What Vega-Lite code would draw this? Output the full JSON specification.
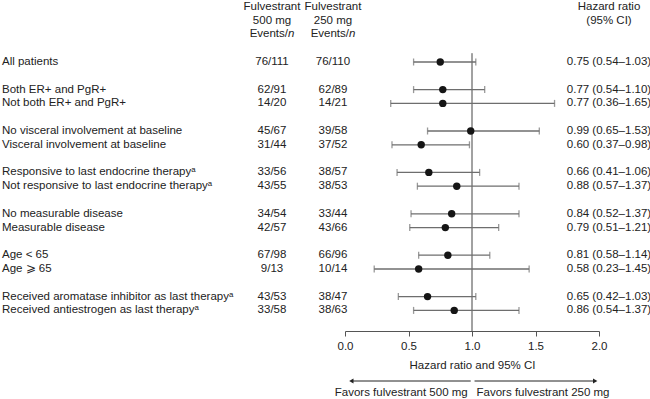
{
  "$schema": "https://vega.github.io/schema/vega-lite/v6.json",
  "background": "white",
  "padding": {"left": 2, "top": 0, "right": 0, "bottom": 0},
  "columns": 4,
  "spacing": {"row": 44, "column": 0},
  "bounds": "flush",
  "config": {
    "view": {"stroke": null},
    "text": {"font": "Liberation Sans", "fontSize": 11.5, "color": "#222"},
    "axis": {"labelFont": "Liberation Sans", "titleFont": "Liberation Sans"}
  },
  "datasets": {
    "rows": [
      {"subgroup": "All patients", "e500": "76/111", "e250": "76/110", "hr": 0.75, "lo": 0.54, "hi": 1.03, "ci": "0.75 (0.54–1.03)"},
      {"subgroup": "Both ER+ and PgR+", "e500": "62/91", "e250": "62/89", "hr": 0.77, "lo": 0.54, "hi": 1.10, "ci": "0.77 (0.54–1.10)"},
      {"subgroup": "Not both ER+ and PgR+", "e500": "14/20", "e250": "14/21", "hr": 0.77, "lo": 0.36, "hi": 1.65, "ci": "0.77 (0.36–1.65)"},
      {"subgroup": "No visceral involvement at baseline", "e500": "45/67", "e250": "39/58", "hr": 0.99, "lo": 0.65, "hi": 1.53, "ci": "0.99 (0.65–1.53)"},
      {"subgroup": "Visceral involvement at baseline", "e500": "31/44", "e250": "37/52", "hr": 0.60, "lo": 0.37, "hi": 0.98, "ci": "0.60 (0.37–0.98)"},
      {"subgroup": "Responsive to last endocrine therapyᵃ", "e500": "33/56", "e250": "38/57", "hr": 0.66, "lo": 0.41, "hi": 1.06, "ci": "0.66 (0.41–1.06)"},
      {"subgroup": "Not responsive to last endocrine therapyᵃ", "e500": "43/55", "e250": "38/53", "hr": 0.88, "lo": 0.57, "hi": 1.37, "ci": "0.88 (0.57–1.37)"},
      {"subgroup": "No measurable disease", "e500": "34/54", "e250": "33/44", "hr": 0.84, "lo": 0.52, "hi": 1.37, "ci": "0.84 (0.52–1.37)"},
      {"subgroup": "Measurable disease", "e500": "42/57", "e250": "43/66", "hr": 0.79, "lo": 0.51, "hi": 1.21, "ci": "0.79 (0.51–1.21)"},
      {"subgroup": "Age < 65", "e500": "67/98", "e250": "66/96", "hr": 0.81, "lo": 0.58, "hi": 1.14, "ci": "0.81 (0.58–1.14)"},
      {"subgroup": "Age ⩾ 65", "e500": "9/13", "e250": "10/14", "hr": 0.58, "lo": 0.23, "hi": 1.45, "ci": "0.58 (0.23–1.45)"},
      {"subgroup": "Received aromatase inhibitor as last therapyᵃ", "e500": "43/53", "e250": "38/47", "hr": 0.65, "lo": 0.42, "hi": 1.03, "ci": "0.65 (0.42–1.03)"},
      {"subgroup": "Received antiestrogen as last therapyᵃ", "e500": "33/58", "e250": "38/63", "hr": 0.86, "lo": 0.54, "hi": 1.37, "ci": "0.86 (0.54–1.37)"}
    ],
    "heads": [
      {"arm": "e500", "dose": "500 mg"},
      {"arm": "e250", "dose": "250 mg"}
    ],
    "favors": [
      {"side": "500", "from": 0.99, "to": 0.05, "label": "Favors fulvestrant 500 mg"},
      {"side": "250", "from": 1.02, "to": 1.97, "label": "Favors fulvestrant 250 mg"}
    ]
  },
  "concat": [
    {
      "width": 258,
      "height": 330,
      "data": {"name": "rows"},
      "mark": {"type": "text", "align": "left", "baseline": "middle"},
      "encoding": {
        "x": {"datum": 0, "type": "quantitative", "scale": {"domain": [0, 1]}, "axis": null},
        "y": {"field": "subgroup", "type": "nominal", "axis": null,
              "scale": {"type": "point", "padding": 0.9565, "align": 0.2197,
                        "domain": ["hdr1","hdr2","hdr3","gap0","All patients","gap1","Both ER+ and PgR+","Not both ER+ and PgR+","gap2","No visceral involvement at baseline","Visceral involvement at baseline","gap3","Responsive to last endocrine therapyᵃ","Not responsive to last endocrine therapyᵃ","gap4","No measurable disease","Measurable disease","gap5","Age < 65","Age ⩾ 65","gap6","Received aromatase inhibitor as last therapyᵃ","Received antiestrogen as last therapyᵃ"]}},
        "text": {"field": "subgroup"}
      }
    },
    {
      "width": 85,
      "height": 330,
      "encoding": {
        "x": {"field": "arm", "type": "nominal", "axis": null,
              "scale": {"type": "point", "domain": ["e500", "e250"], "padding": 0.197}},
        "y": {"field": "subgroup", "type": "nominal", "axis": null,
              "scale": {"type": "point", "padding": 0.9565, "align": 0.2197,
                        "domain": ["hdr1","hdr2","hdr3","gap0","All patients","gap1","Both ER+ and PgR+","Not both ER+ and PgR+","gap2","No visceral involvement at baseline","Visceral involvement at baseline","gap3","Responsive to last endocrine therapyᵃ","Not responsive to last endocrine therapyᵃ","gap4","No measurable disease","Measurable disease","gap5","Age < 65","Age ⩾ 65","gap6","Received aromatase inhibitor as last therapyᵃ","Received antiestrogen as last therapyᵃ"]}}
      },
      "layer": [
        {
          "data": {"name": "rows"},
          "transform": [{"fold": ["e500", "e250"], "as": ["arm", "events"]}],
          "mark": {"type": "text", "align": "center", "baseline": "middle"},
          "encoding": {"text": {"field": "events"}}
        },
        {
          "data": {"name": "heads"},
          "mark": {"type": "text", "align": "center", "baseline": "middle"},
          "encoding": {"y": {"datum": "hdr1", "type": "nominal"}, "text": {"value": "Fulvestrant"}}
        },
        {
          "data": {"name": "heads"},
          "mark": {"type": "text", "align": "center", "baseline": "middle"},
          "encoding": {"y": {"datum": "hdr2", "type": "nominal"}, "text": {"field": "dose"}}
        },
        {
          "data": {"name": "heads"},
          "mark": {"type": "text", "align": "right", "baseline": "middle", "dx": 16},
          "encoding": {"y": {"datum": "hdr3", "type": "nominal"}, "text": {"value": "Events/"}}
        },
        {
          "data": {"name": "heads"},
          "mark": {"type": "text", "align": "left", "baseline": "middle", "dx": 16, "fontStyle": "italic"},
          "encoding": {"y": {"datum": "hdr3", "type": "nominal"}, "text": {"value": "n"}}
        }
      ]
    },
    {
      "width": 254,
      "height": 330,
      "data": {"name": "rows"},
      "encoding": {
        "y": {"field": "subgroup", "type": "nominal", "axis": null,
              "scale": {"type": "point", "padding": 0.9565, "align": 0.2197,
                        "domain": ["hdr1","hdr2","hdr3","gap0","All patients","gap1","Both ER+ and PgR+","Not both ER+ and PgR+","gap2","No visceral involvement at baseline","Visceral involvement at baseline","gap3","Responsive to last endocrine therapyᵃ","Not responsive to last endocrine therapyᵃ","gap4","No measurable disease","Measurable disease","gap5","Age < 65","Age ⩾ 65","gap6","Received aromatase inhibitor as last therapyᵃ","Received antiestrogen as last therapyᵃ"]}}
      },
      "layer": [
        {
          "data": {"values": [{}]},
          "mark": {"type": "rule", "color": "#444", "strokeWidth": 1, "yOffset": 5, "y2Offset": 21},
          "encoding": {
            "x": {"datum": 1, "type": "quantitative", "title": "Hazard ratio and 95% CI",
                  "scale": {"domain": [0, 2]},
                  "axis": {"values": [0, 0.5, 1, 1.5, 2], "format": ".1f", "grid": false, "labelFlush": false,
                           "domainColor": "#555", "tickColor": "#555", "tickSize": 5,
                           "labelFontSize": 11.5, "labelColor": "#222", "labelPadding": 4,
                           "titleFontSize": 11.5, "titleFontWeight": "normal", "titleColor": "#222", "titlePadding": 8}},
            "y": {"datum": "gap0", "type": "nominal"},
            "y2": {"datum": "Received antiestrogen as last therapyᵃ"}
          }
        },
        {
          "mark": {"type": "rule", "color": "#6e6e6e", "strokeWidth": 1.3},
          "encoding": {
            "x": {"field": "lo", "type": "quantitative", "title": "Hazard ratio and 95% CI"},
            "x2": {"field": "hi"}
          }
        },
        {
          "mark": {"type": "tick", "color": "#6e6e6e", "thickness": 1.3, "size": 7, "orient": "vertical"},
          "encoding": {"x": {"field": "lo", "type": "quantitative", "title": "Hazard ratio and 95% CI"}}
        },
        {
          "mark": {"type": "tick", "color": "#6e6e6e", "thickness": 1.3, "size": 7, "orient": "vertical"},
          "encoding": {"x": {"field": "hi", "type": "quantitative", "title": "Hazard ratio and 95% CI"}}
        },
        {
          "mark": {"type": "circle", "color": "#151515", "size": 55, "opacity": 1},
          "encoding": {"x": {"field": "hr", "type": "quantitative", "title": "Hazard ratio and 95% CI"}}
        }
      ]
    },
    {
      "width": 20,
      "height": 330,
      "encoding": {
        "y": {"field": "subgroup", "type": "nominal", "axis": null,
              "scale": {"type": "point", "padding": 0.9565, "align": 0.2197,
                        "domain": ["hdr1","hdr2","hdr3","gap0","All patients","gap1","Both ER+ and PgR+","Not both ER+ and PgR+","gap2","No visceral involvement at baseline","Visceral involvement at baseline","gap3","Responsive to last endocrine therapyᵃ","Not responsive to last endocrine therapyᵃ","gap4","No measurable disease","Measurable disease","gap5","Age < 65","Age ⩾ 65","gap6","Received aromatase inhibitor as last therapyᵃ","Received antiestrogen as last therapyᵃ"]}}
      },
      "layer": [
        {
          "data": {"name": "rows"},
          "mark": {"type": "text", "align": "center", "baseline": "middle"},
          "encoding": {"text": {"field": "ci"}}
        },
        {
          "data": {"values": [{}]},
          "mark": {"type": "text", "align": "center", "baseline": "middle"},
          "encoding": {"y": {"datum": "hdr1", "type": "nominal"}, "text": {"value": "Hazard ratio"}}
        },
        {
          "data": {"values": [{}]},
          "mark": {"type": "text", "align": "center", "baseline": "middle"},
          "encoding": {"y": {"datum": "hdr2", "type": "nominal"}, "text": {"value": "(95% CI)"}}
        }
      ]
    },
    {
      "width": 258,
      "height": 24,
      "data": {"values": [{}]},
      "mark": {"type": "text"},
      "encoding": {"text": {"value": ""}}
    },
    {
      "width": 85,
      "height": 24,
      "data": {"values": [{}]},
      "mark": {"type": "text"},
      "encoding": {"text": {"value": ""}}
    },
    {
      "width": 254,
      "height": 24,
      "data": {"name": "favors"},
      "encoding": {
        "x": {"field": "from", "type": "quantitative", "scale": {"domain": [0, 2]}, "axis": null}
      },
      "layer": [
        {
          "mark": {"type": "rule", "color": "#222", "strokeWidth": 1},
          "encoding": {
            "x2": {"field": "to"},
            "y": {"datum": "arrow", "type": "nominal", "axis": null,
                  "scale": {"type": "point", "domain": ["arrow", "label"], "padding": 0.5}}
          }
        },
        {
          "mark": {"type": "point", "filled": true, "color": "#222", "size": 25, "opacity": 1},
          "encoding": {
            "x": {"field": "to", "type": "quantitative"},
            "y": {"datum": "arrow", "type": "nominal"},
            "shape": {"field": "side", "type": "nominal", "legend": null,
                      "scale": {"domain": ["500", "250"], "range": ["triangle-left", "triangle-right"]}}
          }
        },
        {
          "transform": [{"filter": "datum.side === '500'"}],
          "mark": {"type": "text", "align": "right", "baseline": "middle", "dx": -3},
          "encoding": {"y": {"datum": "label", "type": "nominal"}, "text": {"field": "label"}}
        },
        {
          "transform": [{"filter": "datum.side === '250'"}],
          "mark": {"type": "text", "align": "left", "baseline": "middle", "dx": 2},
          "encoding": {"y": {"datum": "label", "type": "nominal"}, "text": {"field": "label"}}
        }
      ]
    },
    {
      "width": 20,
      "height": 24,
      "data": {"values": [{}]},
      "mark": {"type": "text"},
      "encoding": {"text": {"value": ""}}
    }
  ]
}
